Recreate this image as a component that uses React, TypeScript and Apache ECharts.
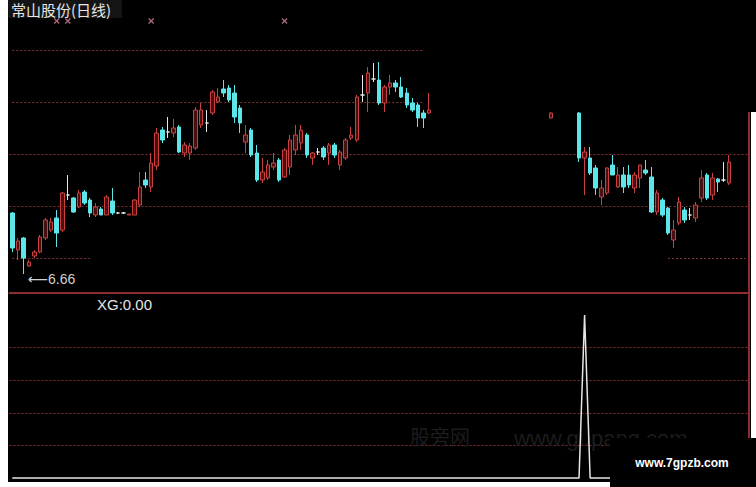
import React, { useEffect, useRef } from 'react';
import * as echarts from 'echarts';

// ---- data ----
const dayCount = 133;
const days: string[] = Array.from({ length: dayCount }, (_, i) => 'D' + (i + 1));

// [open, close, lowest, highest]; null = no bar shown
const ohlc: (number[] | null)[] = [
  [7.27, 6.92, 6.88, 7.28], [6.90, 6.99, 6.80, 7.02], [7.02, 6.82, 6.66, 7.03], [6.74, 6.78, 6.73, 6.80], [6.84, 6.88, 6.82, 6.90],
  [6.88, 7.03, 6.87, 7.05], [7.02, 7.20, 7.00, 7.22], [7.10, 7.18, 7.08, 7.22], [7.22, 7.07, 6.93, 7.30], [7.10, 7.47, 7.08, 7.48],
  [7.45, 7.45, 7.40, 7.65], [7.42, 7.28, 7.27, 7.43], [7.33, 7.47, 7.32, 7.50], [7.48, 7.37, 7.35, 7.50], [7.40, 7.27, 7.23, 7.42],
  [7.25, 7.33, 7.23, 7.37], [7.31, 7.25, 7.25, 7.33], [7.25, 7.43, 7.25, 7.45], [7.39, 7.27, 7.25, 7.52], [7.27, 7.27, 7.26, 7.28],
  [7.27, 7.27, 7.26, 7.28], [7.25, 7.26, 7.25, 7.26], [7.25, 7.40, 7.25, 7.41], [7.35, 7.53, 7.33, 7.68], [7.60, 7.55, 7.52, 7.68],
  [7.53, 7.77, 7.48, 7.87], [7.74, 8.07, 7.70, 8.12], [8.10, 8.00, 7.97, 8.13], [8.08, 8.08, 8.02, 8.23], [8.07, 8.12, 8.03, 8.21],
  [8.13, 7.88, 7.87, 8.15], [7.87, 7.95, 7.83, 7.98], [7.87, 7.94, 7.80, 7.97], [7.92, 8.30, 7.90, 8.33], [8.15, 8.30, 8.12, 8.37],
  [8.17, 8.17, 8.08, 8.30], [8.27, 8.48, 8.25, 8.50], [8.38, 8.43, 8.37, 8.52], [8.51, 8.47, 8.43, 8.60], [8.52, 8.40, 8.38, 8.55],
  [8.47, 8.23, 8.17, 8.55], [8.32, 8.17, 8.07, 8.35], [7.98, 8.05, 7.87, 8.15], [8.10, 7.85, 7.83, 8.12], [7.87, 7.60, 7.58, 7.95],
  [7.60, 7.68, 7.57, 7.82], [7.62, 7.75, 7.60, 7.80], [7.73, 7.77, 7.70, 7.87], [7.80, 7.60, 7.58, 7.82], [7.63, 7.90, 7.62, 7.92],
  [7.73, 8.00, 7.65, 8.05], [7.90, 8.05, 7.85, 8.15], [7.97, 8.10, 7.90, 8.15], [8.05, 7.85, 7.82, 8.07], [7.82, 7.87, 7.75, 7.88],
  [7.88, 7.88, 7.85, 7.92], [7.92, 7.83, 7.80, 7.94], [7.87, 7.95, 7.75, 7.97], [7.95, 7.85, 7.82, 7.97], [7.75, 7.88, 7.70, 7.90],
  [7.82, 8.00, 7.80, 8.02], [8.02, 8.05, 8.00, 8.13], [8.00, 8.43, 7.98, 8.45], [8.45, 8.45, 8.38, 8.65], [8.47, 8.67, 8.28, 8.73],
  [8.61, 8.61, 8.58, 8.77], [8.60, 8.37, 8.35, 8.78], [8.37, 8.53, 8.28, 8.55], [8.53, 8.57, 8.45, 8.65], [8.57, 8.53, 8.48, 8.60],
  [8.53, 8.43, 8.42, 8.63], [8.47, 8.35, 8.32, 8.52], [8.37, 8.30, 8.28, 8.42], [8.35, 8.22, 8.13, 8.37], [8.27, 8.22, 8.12, 8.30],
  [8.27, 8.30, 8.26, 8.47],
  null, null, null, null, null, null, null, null, null, null, null,
  null, null, null, null, null, null, null, null, null, null,
  [8.22, 8.27, 8.22, 8.28],
  null, null, null, null,
  [8.27, 7.82, 7.78, 8.28], [7.82, 7.88, 7.45, 7.93], [7.82, 7.67, 7.65, 7.93], [7.72, 7.52, 7.45, 7.75], [7.43, 7.52, 7.35, 7.60],
  [7.47, 7.72, 7.45, 7.73], [7.75, 7.65, 7.65, 7.85], [7.53, 7.65, 7.52, 7.73], [7.65, 7.53, 7.47, 7.73], [7.65, 7.55, 7.52, 7.75],
  [7.52, 7.65, 7.47, 7.68], [7.62, 7.75, 7.52, 7.75], [7.70, 7.67, 7.65, 7.80], [7.63, 7.28, 7.27, 7.73], [7.28, 7.47, 7.25, 7.50],
  [7.40, 7.25, 7.23, 7.42], [7.32, 7.07, 7.05, 7.33], [7.00, 7.10, 6.92, 7.20], [7.17, 7.38, 7.15, 7.43], [7.30, 7.20, 7.17, 7.33],
  [7.25, 7.25, 7.20, 7.32], [7.22, 7.35, 7.18, 7.38], [7.42, 7.62, 7.38, 7.70], [7.65, 7.42, 7.40, 7.67], [7.45, 7.62, 7.40, 7.67],
  [7.61, 7.58, 7.48, 7.62], [7.60, 7.60, 7.58, 7.78], [7.57, 7.78, 7.55, 7.85],
];

// XG indicator values (bottom panel)
const xgValues: number[] = [
  0, 0, 0, 0, 0, 0, 0, 0, 0, 0,
  0, 0, 0, 0, 0, 0, 0, 0, 0, 0,
  0, 0, 0, 0, 0, 0, 0, 0, 0, 0,
  0, 0, 0, 0, 0, 0, 0, 0, 0, 0,
  0, 0, 0, 0, 0, 0, 0, 0, 0, 0,
  0, 0, 0, 0, 0, 0, 0, 0, 0, 0,
  0, 0, 0, 0, 0, 0, 0, 0, 0, 0,
  0, 0, 0, 0, 0, 0, 0, 0, 0, 0,
  0, 0, 0, 0, 0, 0, 0, 0, 0, 0,
  0, 0, 0, 0, 0, 0, 0, 0, 0, 0,
  0, 0, 0, 1, 0, 0, 0, 0, 0, 0,
  0, 0, 0, 0, 0, 0, 0, 0, 0, 0,
  0, 0, 0, 0, 0, 0, 0, 0, 0, 0,
];

// signal marks at top of price panel
const markDays = [8, 10, 25, 49];
const markLevel = 9.19;

// dotted reference levels in price panel
const levelA = 8.90;
const levelB = 8.38;
const levelC = 7.86;
const levelD = 7.34;
const levelE = 6.82;

const titleText = '常山股份(日线)';
const xgText = 'XG:0.00';

export default function App() {
  const ref = useRef<HTMLDivElement>(null);

  useEffect(() => {
    if (!ref.current) return;
    const chart = echarts.init(ref.current, null, { renderer: 'svg' });
    const candleData = ohlc.map((d) => (d ? d : ['-', '-', '-', '-']));
    const dotted = { color: '#8a3030', type: [2, 2] as number[], width: 1 };

    const option: any = {
      animation: false,
      backgroundColor: 'transparent',
      grid: [
        { left: 9.5, top: 10, width: 739, height: 283 },
        { left: 9.5, top: 315, width: 739, height: 163 },
      ],
      xAxis: [
        {
          type: 'category', gridIndex: 0, data: days, boundaryGap: true,
          axisLine: { show: true, onZero: false, lineStyle: { color: '#8c2c2c', width: 2 } },
          axisTick: { show: false }, axisLabel: { show: false }, splitLine: { show: false },
        },
        {
          type: 'category', gridIndex: 1, data: days, boundaryGap: true,
          axisLine: { show: false }, axisTick: { show: false }, axisLabel: { show: false }, splitLine: { show: false },
        },
      ],
      yAxis: [
        {
          type: 'value', gridIndex: 0, min: 6.47, max: 9.30, scale: true,
          axisLine: { show: false }, axisTick: { show: false }, axisLabel: { show: false }, splitLine: { show: false },
        },
        {
          type: 'value', gridIndex: 1, min: 0, max: 1, interval: 0.2,
          axisLine: { show: false }, axisTick: { show: false }, axisLabel: { show: false },
          splitLine: { show: true, showMinLine: false, showMaxLine: false, lineStyle: dotted },
        },
      ],
      series: [
        {
          type: 'candlestick', xAxisIndex: 0, yAxisIndex: 0, data: candleData, barWidth: 4, z: 3,
          itemStyle: {
            color: '#4a1010', color0: '#5ce6ea', borderColor: '#c84040', borderColor0: '#5ce6ea',
            borderColorDoji: '#e8e8e8', borderWidth: 1,
          },
          markPoint: {
            symbol: 'circle', symbolSize: 1, itemStyle: { color: 'transparent' },
            data: [{ type: 'min', valueDim: 'lowest' }],
            label: {
              show: true, position: 'right', distance: 4, offset: [0, 5],
              formatter: (p: any) => '⟵' + Number(p.value).toFixed(2),
              color: '#d0d0d0', fontSize: 14, fontFamily: '"Liberation Sans", "DejaVu Sans", Arial, sans-serif',
            },
          },
          markLine: {
            silent: true, symbol: ['none', 'none'], z: 1, label: { show: false },
            lineStyle: dotted, emphasis: { disabled: true },
            data: [
              [{ coord: [0, levelA] }, { coord: [74, levelA] }],
              [{ coord: [0, levelB] }, { coord: [74, levelB] }],
              { yAxis: levelC },
              { yAxis: levelD },
              [{ coord: [0, levelE] }, { coord: [14, levelE] }],
              [{ coord: [118, levelE] }, { coord: [132, levelE] }],
            ],
          },
        },
        {
          type: 'scatter', xAxisIndex: 0, yAxisIndex: 0,
          data: markDays.map((d) => [d, markLevel]),
          symbol: 'path://M0,0L10,10M10,0L0,10', symbolSize: 5,
          itemStyle: { color: '#d8849c', borderColor: '#d8849c', borderWidth: 1.3 },
          silent: true,
        },
        {
          type: 'line', xAxisIndex: 1, yAxisIndex: 1, data: xgValues, symbol: 'none', clip: false,
          lineStyle: { color: '#e6e6e6', width: 1.5 }, silent: true, z: 4,
        },
      ],
      graphic: [
        { type: 'rect', z: -10, shape: { x: 8, y: 0, width: 743, height: 482 }, style: { fill: '#000000' } },
        { type: 'rect', z: -10, shape: { x: 420, y: 0, width: 336, height: 112 }, style: { fill: '#000000' } },
        { type: 'rect', z: -5, shape: { x: 8, y: 0, width: 114, height: 18 }, style: { fill: '#141414' } },
        {
          type: 'text', z: 10, x: 11, y: 9,
          style: { text: titleText, fill: '#e6e6e6', font: '15px "Noto Sans CJK SC", sans-serif', verticalAlign: 'middle' },
        },
        {
          type: 'text', z: 10, x: 97, y: 304,
          style: { text: xgText, fill: '#e6e6e6', font: '15px "Liberation Sans", Arial, sans-serif', verticalAlign: 'middle' },
        },
        {
          type: 'text', z: 1, x: 410, y: 436,
          style: { text: '股旁网', fill: '#1c1c1c', font: '20px "Noto Sans CJK SC", sans-serif', verticalAlign: 'middle' },
        },
        {
          type: 'text', z: 1, x: 514, y: 438,
          style: { text: 'www.gupang.com', fill: '#1c1c1c', font: '22px "Liberation Sans", Arial, sans-serif', verticalAlign: 'middle' },
        },
        { type: 'line', z: 5, shape: { x1: 749, y1: 112, x2: 749, y2: 438 }, style: { stroke: '#8c2c2c', lineWidth: 2 } },
        { type: 'rect', z: 100, shape: { x: 610, y: 438, width: 146, height: 49 }, style: { fill: '#000000' } },
        {
          type: 'text', z: 101, x: 682, y: 463,
          style: { text: 'www.7gpzb.com', fill: '#ffffff', font: 'bold 12px "Liberation Sans", Arial, sans-serif', align: 'center', verticalAlign: 'middle' },
        },
      ],
    };
    chart.setOption(option);
    return () => chart.dispose();
  }, []);

  return (
    <div style={{ position: 'fixed', left: 0, top: 0, width: 756, height: 487, background: '#ffffff' }}>
      <div ref={ref} style={{ width: 756, height: 487 }} />
    </div>
  );
}
